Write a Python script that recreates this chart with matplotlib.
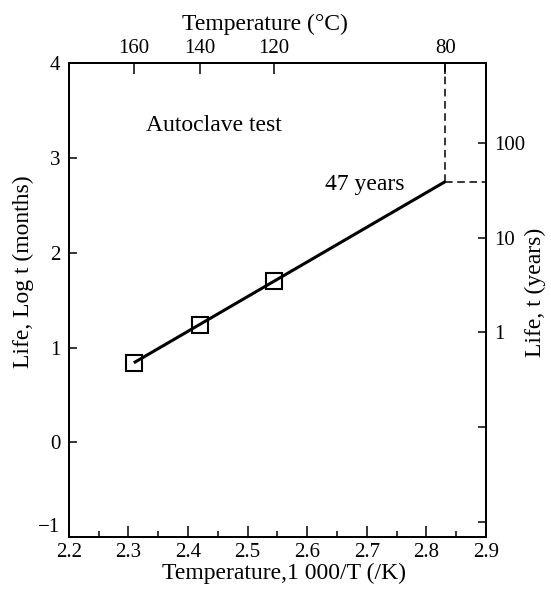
import numpy as np
import matplotlib.pyplot as plt
from matplotlib.ticker import MultipleLocator

plt.rcParams['font.family'] = ['Liberation Serif', 'DejaVu Serif']
plt.rcParams['font.size'] = 15
plt.rcParams['axes.linewidth'] = 1.2

# measured points (1000/T, log t in months)
inv_temp = [2.309, 2.420, 2.544]
log_life = [0.84, 1.24, 1.70]

# fitted line runs from the first point out to 80 C, 47 years
fit_temp_c = 80
fit_years = 47
fit_x = [inv_temp[0], 1000 / (fit_temp_c + 273.15)]
fit_y = [log_life[0], np.log10(fit_years * 12)]

bottom_ticks = [2.2, 2.3, 2.4, 2.5, 2.6, 2.7, 2.8, 2.9]
left_ticks = [-1, 0, 1, 2, 3, 4]
top_temps_c = [160, 140, 120, 80]
right_years = [0.01, 0.1, 1, 10, 100]
right_labels = ['', '', '1', '10', '100']
right_offset = 1.16  # where the right scale sits against the left one in the figure

label_size = 17

fig = plt.figure(figsize=(5.51, 5.91), dpi=100)
ax = fig.add_axes([0.125, 0.091, 0.757, 0.802])

ax.plot(fit_x, fit_y, color='black', linewidth=2.2, solid_capstyle='butt')
ax.plot(inv_temp, log_life, linestyle='none', marker='s', markersize=11,
        markerfacecolor='none', markeredgecolor='black', markeredgewidth=1.5)

# dashed guides to the 80 C / 47 year point
ax.plot([fit_x[1], fit_x[1]], [fit_y[1], 4], color='black', linewidth=1.1,
        linestyle=(0, (5, 3)))
ax.plot([fit_x[1], 2.9], [fit_y[1], fit_y[1]], color='black', linewidth=1.1,
        linestyle=(0, (5, 3)))

ax.set_xlim(2.2, 2.9)
ax.set_ylim(-1, 4)
ax.set_xticks(bottom_ticks)
ax.set_xticklabels([f"{v:.1f}" for v in bottom_ticks])
ax.xaxis.set_minor_locator(MultipleLocator(0.05))
ax.set_yticks(left_ticks)
ax.set_yticklabels([str(v).replace('-', '\u2212') for v in left_ticks])
ax.get_yticklabels()[0].set_va('bottom')  # -1 sits a little above the corner
ax.tick_params(axis='x', which='major', direction='in', length=8, width=1.1, pad=4)
ax.tick_params(axis='x', which='minor', direction='in', length=4, width=1.1)
ax.tick_params(axis='y', direction='in', length=6, width=1.1, pad=6)

ax.set_xlabel('Temperature,1 000/T (/K)', fontsize=label_size)
ax.xaxis.set_label_coords(0.515, -0.053)
ax.set_ylabel('Life, Log t (months)', fontsize=label_size)
ax.yaxis.set_label_coords(-0.084, 0.56)

ax.text(2.33, 3.28, 'Autoclave test', ha='left', va='baseline', fontsize=label_size)
ax.text(2.63, 2.66, '47 years', ha='left', va='baseline', fontsize=label_size)

# top axis: temperature in C
top = ax.twiny()
top.set_xlim(ax.get_xlim())
top.set_xticks([1000 / (t + 273.15) for t in top_temps_c])
top.set_xticklabels([str(t) for t in top_temps_c])
top.tick_params(axis='x', direction='in', length=8, width=1.1, pad=4)
top.set_xlabel('Temperature (\u00b0C)', fontsize=label_size)
top.xaxis.set_label_coords(0.47, 1.07)

# right axis: life in years
right = ax.twinx()
right.set_ylim(ax.get_ylim())
right.set_yticks([np.log10(y) + right_offset for y in right_years])
right.set_yticklabels(right_labels)
right.tick_params(axis='y', direction='in', length=6, width=1.1, pad=6)
right.set_ylabel('Life, t (years)', fontsize=label_size)
right.yaxis.set_label_coords(1.094, 0.517)

fig.savefig('out.png', dpi=100)
